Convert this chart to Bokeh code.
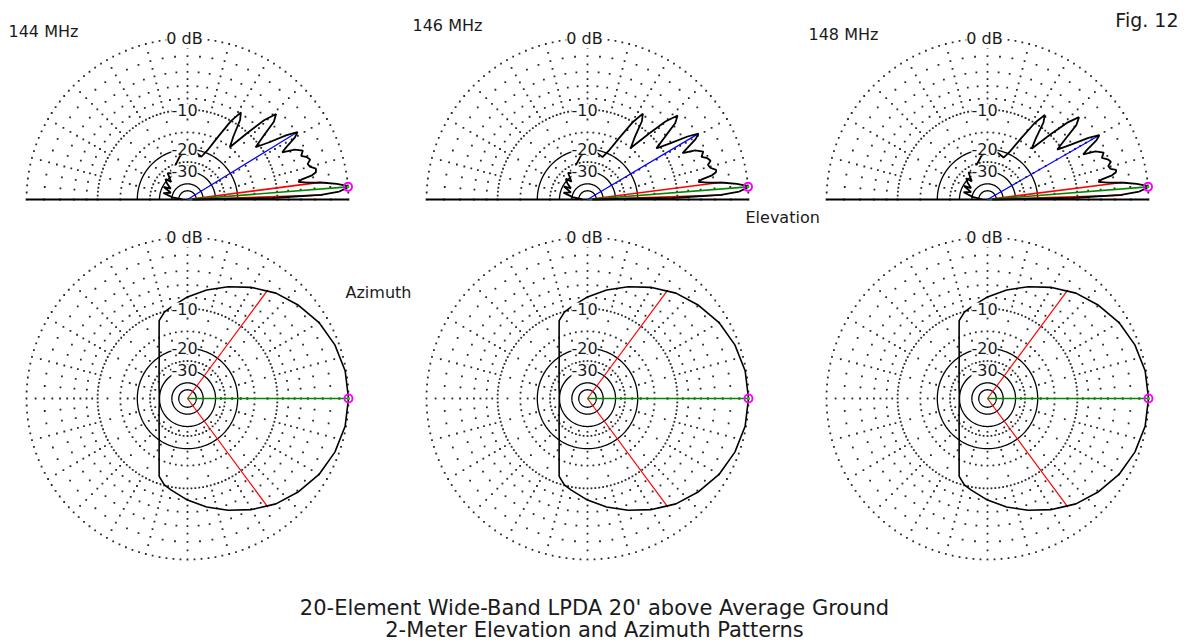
import numpy as np
from bokeh.plotting import figure
from bokeh.models import Range1d, Label
from bokeh.core.properties import value
from bokeh.embed import file_html
from bokeh.resources import INLINE

# ---------------- data ----------------
freq_labels = ["144 MHz", "146 MHz", "148 MHz"]
ring_labels = ["0 dB", "-10", "-20", "-30"]
ring_label_db = [0, -10, -20, -30]
title_lines = ["20-Element Wide-Band LPDA 20' above Average Ground",
               "2-Meter Elevation and Azimuth Patterns"]

# elevation pattern (dB, relative to max) -- shared shape, lobe angles differ per frequency
elev_db = [-60, -11.0, -3.2, -1.0, -0.2, 0.0, -0.2, -1.2, -2.7, -4.8,
           -6.2, -5.6, -4.1, -3.5, -3.4, -4.1, -4.3, -3.8, -4.1, -4.8,
           -4.3, -5.3, -7.2, -6.2, -4.5, -3.8, -5.3, -8.2, -10.8, -8.2,
           -5.6, -4.6, -6.5, -10.0, -15.0, -12.4, -9.0, -7.8, -10.0, -14.3,
           -19.1, -21.9, -21.1, -20.1, -20.4, -22.3, -25.7, -28.8, -27.2, -32.7,
           -28.8, -31.3, -35.8, -30.6, -37.6, -32.0, -40.7, -60]
elev_ang_144 = [0, 1, 2, 3, 4, 4.5, 5, 6, 7, 8,
                9, 10, 11, 12, 13.5, 15, 16.5, 18, 19.5, 21,
                23, 25, 26.5, 28, 30, 31.5, 33, 35, 37.5, 40,
                42, 44, 46, 48, 51, 54, 56.5, 58.5, 61, 64,
                68, 72, 78, 85, 92, 100, 110, 120, 127, 133,
                137, 142, 147, 152, 158, 165, 172, 180]
elev_ang_146 = [0, 1, 2, 3, 4, 4.5, 5, 6, 7, 8,
                9, 10, 11, 12, 13, 14.5, 16, 17.5, 19, 20.5,
                22.5, 24.5, 26, 27.3, 29.2, 30.7, 32.2, 34.2, 36.6, 39,
                41, 43, 45, 47, 50, 52.8, 55.2, 57.2, 59.6, 62.6,
                66.5, 70.5, 77, 84, 91, 99, 109, 119, 126, 132,
                136, 141, 146, 151, 157, 164, 171, 180]
elev_ang_148 = [0, 1, 2, 3, 4, 4.5, 5, 6, 7, 8,
                9, 10, 11, 12, 13, 14, 15.5, 17, 18.5, 20,
                22, 24, 25.3, 26.7, 28.5, 29.9, 31.4, 33.3, 35.6, 38,
                40, 42, 44, 46, 49, 51.7, 54, 55.9, 58.3, 61.2,
                65, 69, 76, 83, 90, 98, 108, 118, 125, 131,
                135, 140, 145, 150, 156, 163, 170, 180]
elev_angles = [elev_ang_144, elev_ang_146, elev_ang_148]
elev_max_ang = [4.5, 4.5, 4.5]
elev_blue_ang = [31.5, 30.7, 29.9]
elev_blue_db = [-3.8, -3.8, -3.8]
elev_bw_lo = [1.9, 1.9, 1.8]
elev_bw_hi = [7.4, 7.3, 7.2]

# azimuth pattern (dB)
az_ang = [0, 10, 20, 30, 40, 50, 60, 70, 80, 90, 100, 105, 110, 115, 120, 125, 130, 140,
          150, 160, 170, 180, 190, 200, 210, 220, 230, 235, 240, 245, 250, 255, 260,
          270, 280, 290, 300, 310, 320, 330, 340, 350, 360]
az_db = [0.0, -0.1, -0.45, -1.0, -1.8, -2.7, -3.9, -5.2, -6.5, -7.9, -9.4, -10.1, -11.4, -15.0, -17.9, -20.3, -22.2, -25.2,
         -27.3, -28.7, -29.6, -29.9, -29.6, -28.7, -27.3, -25.2, -22.2, -20.3, -17.9, -15.0, -11.4, -10.1, -9.4,
         -7.9, -6.5, -5.2, -3.9, -2.7, -1.8, -1.0, -0.45, -0.1, 0.0]
az_bw = [53.5, 53.5, 53.5]

# ---------------- layout ----------------
W, H = 1187, 643
CX = [187, 587, 987]
CY_E = 199
CY_A = 398
R = 161.0
FONT = value("DejaVu Sans")
INK = "#1a1a1a"


def rad(db):
    return R * 0.89 ** (-np.asarray(db, dtype=float) / 2.0)


def xy(cx, cy, db, ang):
    r = rad(db)
    a = np.radians(np.asarray(ang, dtype=float))
    return cx + r * np.cos(a), cy - r * np.sin(a)


p = figure(width=W, height=H, output_backend="svg", toolbar_location=None,
           x_range=Range1d(0, W), y_range=Range1d(H, 0),
           x_axis_type=None, y_axis_type=None, min_border=0)
p.outline_line_color = None
p.grid.visible = False
p.background_fill_color = "white"
p.border_fill_color = "white"


def grid(cx, cy, full):
    xs, ys = [], []
    amax = 360 if full else 180
    for db, step in [(0, 2.5), (-10, 2.5), (-2, 5), (-4, 5), (-6, 5), (-8, 5), (-15, 5), (-25, 6)]:
        ang = np.arange(0, amax + (0 if full else 0.01), step)
        x, y = xy(cx, cy, np.full(len(ang), db), ang)
        xs += list(x); ys += list(y)
    rdb = np.array([-1, -3, -5, -7, -9, -12, -17, -19, -22, -27])
    for a in np.arange(0, amax + 0.01, 15):
        if (not full) and (a == 0 or a == 180):
            continue
        x, y = xy(cx, cy, rdb, np.full(len(rdb), a))
        xs += list(x); ys += list(y)
    p.scatter(xs, ys, marker="square", size=1.8, fill_color="#101010",
              line_color=None, fill_alpha=0.9)
    # solid rings
    for db in [-20, -30, -40, -50]:
        ang = np.linspace(0, amax, 181 if full else 91)
        x, y = xy(cx, cy, np.full(len(ang), db), ang)
        p.line(x, y, line_color="black", line_width=1.3)


def labels(cx, cy):
    for t, db in zip(ring_labels, ring_label_db):
        r = float(rad(db))
        p.add_layout(Label(x=cx - 3, y=cy - r, text=t, x_units="data", y_units="data",
                           text_align="center", text_baseline="middle",
                           text_font="DejaVu Sans", text_font_size="16px",
                           text_color=INK, background_fill_color="white"))


for i in range(3):
    cx = CX[i]
    # ---- elevation ----
    grid(cx, CY_E, False)
    p.line([cx - R, cx + R], [CY_E, CY_E], line_color="black", line_width=2)
    ex, ey = xy(cx, CY_E, elev_db, elev_angles[i])
    bx, by = xy(cx, CY_E, [-3, -3], [elev_bw_lo[i], elev_bw_hi[i]])
    p.segment([cx, cx], [CY_E, CY_E], bx, by, line_color="red", line_width=1.6)
    mx, my = xy(cx, CY_E, [0], [elev_max_ang[i]])
    p.segment([cx], [CY_E], mx, my, line_color="#008800", line_width=1.6)
    ux, uy = xy(cx, CY_E, [elev_blue_db[i]], [elev_blue_ang[i]])
    p.segment([cx], [CY_E], ux, uy, line_color="blue", line_width=1.2)
    p.line(ex, ey, line_color="black", line_width=1.8)
    p.scatter(mx, my, marker="circle", size=8, fill_color=None, line_color="magenta", line_width=2)
    p.scatter(mx, my, marker="circle", size=3, fill_color="#00cc00", line_color=None)
    labels(cx, CY_E)

    # ---- azimuth ----
    grid(cx, CY_A, True)
    ax, ay = xy(cx, CY_A, az_db, az_ang)
    bx, by = xy(cx, CY_A, [-3, -3], [az_bw[i], -az_bw[i]])
    p.segment([cx, cx], [CY_A, CY_A], bx, by, line_color="red", line_width=1.2)
    mx, my = xy(cx, CY_A, [0], [0])
    p.segment([cx], [CY_A], mx, my, line_color="#008800", line_width=1.6)
    p.line(ax, ay, line_color="black", line_width=1.6)
    p.scatter(mx, my, marker="circle", size=8, fill_color=None, line_color="magenta", line_width=2)
    p.scatter(mx, my, marker="circle", size=3, fill_color="#00cc00", line_color=None)
    labels(cx, CY_A)

# texts
p.text(x=[8, 412, 808], y=[31, 25, 34], text=freq_labels, text_font=FONT,
       text_font_size="16px", text_baseline="middle", text_align="left", text_color=INK)
p.text(x=[745, 345], y=[217, 292], text=["Elevation", "Azimuth"],
       text_font=FONT, text_font_size="16px", text_baseline="middle", text_align="left",
       text_color=INK)
p.text(x=[1178], y=[19], text=["Fig. 12"], text_font=FONT, text_font_size="19px",
       text_baseline="middle", text_align="right", text_color=INK)
p.text(x=[594, 594], y=[607, 629], text=title_lines, text_font=FONT,
       text_font_size="21px", text_baseline="alphabetic", text_align="center", text_color=INK)

open("out.html", "w").write(file_html(p, INLINE))
